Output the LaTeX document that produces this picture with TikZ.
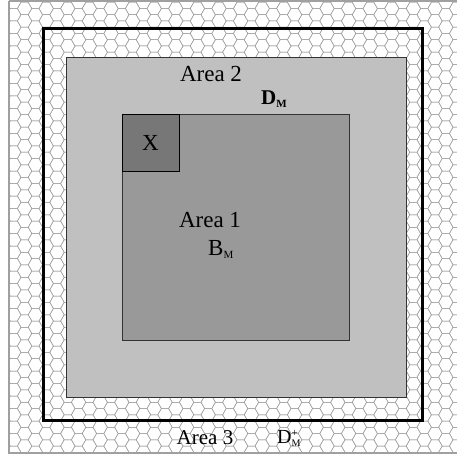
\documentclass[tikz,border=0pt]{standalone}
\usepackage{fontspec}
\setmainfont{Liberation Serif}
\definecolor{HexGray}{HTML}{A0A0A0}
\definecolor{AreaTwo}{HTML}{C0C0C0}
\definecolor{AreaOne}{HTML}{999999}
\definecolor{XGray}{HTML}{777777}
\newcommand{\subM}[1]{\raisebox{-3pt}{\fontsize{#1}{#1}\selectfont M}}
\begin{document}
\begin{tikzpicture}[x=1pt,y=-1pt,
 region/.style={draw=black!80,line width=0.8pt},
 label/.style={inner sep=0pt,font=\fontsize{23}{23}\selectfont}]
\useasboundingbox (0,0) rectangle (456,457);
% honeycomb of area 3
\begin{scope}
\clip (9,1) rectangle (460,453);
\foreach \i in {0,...,44}{
  \foreach \j in {0,...,38}{
    \pgfmathsetmacro{\cx}{3+10.8*\i}
    \pgfmathsetmacro{\cy}{-4+12.5*\j+6.25*mod(\i,2)}
    \draw[HexGray,line width=0.5pt] (\cx-7.2,\cy) -- (\cx-3.6,\cy-6.25) -- (\cx+3.6,\cy-6.25)
      -- (\cx+7.2,\cy) -- (\cx+3.6,\cy+6.25) -- (\cx-3.6,\cy+6.25) -- cycle;
  }
}
\end{scope}
\draw[HexGray,line width=1.5pt] (9,1) -- (460,1) (9,1) -- (9,453) -- (460,453);
\draw[black,line width=3pt] (43,29) rectangle (422,420);
\draw[region,fill=AreaTwo] (66,57) rectangle (406,397);
\draw[region,fill=AreaOne] (122,114) rectangle (349,340);
\draw[region,draw=black,fill=XGray] (122,114) rectangle (179,171);
\node[label] (xlab) at (150.5,143) {X};
\node[label] (area2) at (211,74) {Area 2};
\node[inner sep=0pt,font=\bfseries\fontsize{21}{21}\selectfont,anchor=west] (dm) at (261,99) {D\subM{11}};
\node[label] (area1) at (210,220) {Area 1};
\node[label,anchor=west] (bm) at (208,249.5) {B\subM{11}};
\node[label,font=\fontsize{21}{21}\selectfont] (area3) at (205,438) {Area 3};
\node[inner sep=0pt,font=\fontsize{20}{20}\selectfont,anchor=west] (dmplus) at (277,438)
  {D\rlap{\raisebox{7pt}{\fontsize{11}{11}\selectfont +}}\subM{10}};
\end{tikzpicture}
\end{document}
